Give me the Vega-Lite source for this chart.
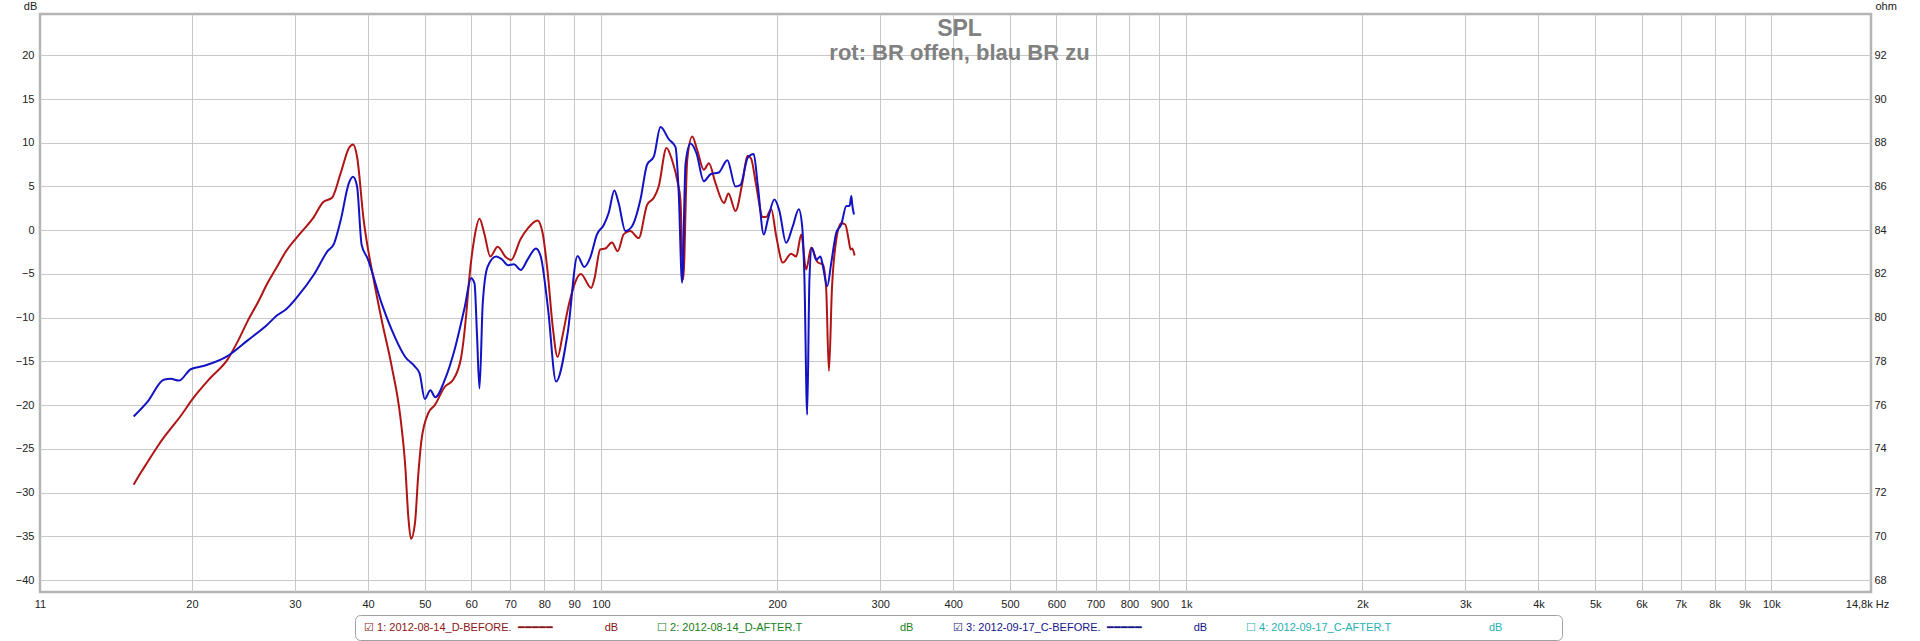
{
  "$schema": "https://vega.github.io/schema/vega-lite/v6.json",
  "width": 1831,
  "height": 578,
  "autosize": "none",
  "padding": {"left": 40, "top": 14, "right": 49, "bottom": 49},
  "background": "white",
  "config": {
    "font": "Liberation Sans",
    "view": {"stroke": "#b4b4b4", "strokeWidth": 2.5}
  },
  "title": {
    "text": "SPL",
    "subtitle": "rot: BR offen, blau BR zu",
    "anchor": "middle",
    "frame": "group",
    "offset": -64,
    "dx": 4,
    "font": "Liberation Sans",
    "fontSize": 23,
    "fontWeight": "bold",
    "color": "#808080",
    "subtitleFont": "Liberation Sans",
    "subtitleFontSize": 22,
    "subtitleFontWeight": "bold",
    "subtitleColor": "#808080",
    "subtitlePadding": 2
  },
  "data": {
    "values": [
      {"series": "1: 2012-08-14_D-BEFORE.", "hz": 15.9, "db": -29.1},
      {"series": "1: 2012-08-14_D-BEFORE.", "hz": 16.4, "db": -27.6},
      {"series": "1: 2012-08-14_D-BEFORE.", "hz": 16.8, "db": -26.5},
      {"series": "1: 2012-08-14_D-BEFORE.", "hz": 17.4, "db": -24.9},
      {"series": "1: 2012-08-14_D-BEFORE.", "hz": 18.0, "db": -23.5},
      {"series": "1: 2012-08-14_D-BEFORE.", "hz": 18.6, "db": -22.3},
      {"series": "1: 2012-08-14_D-BEFORE.", "hz": 19.2, "db": -21.1},
      {"series": "1: 2012-08-14_D-BEFORE.", "hz": 20.0, "db": -19.4},
      {"series": "1: 2012-08-14_D-BEFORE.", "hz": 21.5, "db": -16.9},
      {"series": "1: 2012-08-14_D-BEFORE.", "hz": 23.0, "db": -14.8},
      {"series": "1: 2012-08-14_D-BEFORE.", "hz": 24.0, "db": -12.6},
      {"series": "1: 2012-08-14_D-BEFORE.", "hz": 24.9, "db": -10.4},
      {"series": "1: 2012-08-14_D-BEFORE.", "hz": 26.0, "db": -8.1},
      {"series": "1: 2012-08-14_D-BEFORE.", "hz": 26.9, "db": -6.1},
      {"series": "1: 2012-08-14_D-BEFORE.", "hz": 28.0, "db": -4.1},
      {"series": "1: 2012-08-14_D-BEFORE.", "hz": 28.9, "db": -2.5},
      {"series": "1: 2012-08-14_D-BEFORE.", "hz": 30.6, "db": -0.4},
      {"series": "1: 2012-08-14_D-BEFORE.", "hz": 32.3, "db": 1.5},
      {"series": "1: 2012-08-14_D-BEFORE.", "hz": 33.5, "db": 3.2},
      {"series": "1: 2012-08-14_D-BEFORE.", "hz": 34.7, "db": 3.7},
      {"series": "1: 2012-08-14_D-BEFORE.", "hz": 35.9, "db": 6.5},
      {"series": "1: 2012-08-14_D-BEFORE.", "hz": 37.1, "db": 9.4},
      {"series": "1: 2012-08-14_D-BEFORE.", "hz": 37.7, "db": 9.8},
      {"series": "1: 2012-08-14_D-BEFORE.", "hz": 38.3, "db": 8.4},
      {"series": "1: 2012-08-14_D-BEFORE.", "hz": 39.3, "db": 1.2},
      {"series": "1: 2012-08-14_D-BEFORE.", "hz": 40.9, "db": -5.7},
      {"series": "1: 2012-08-14_D-BEFORE.", "hz": 42.2, "db": -10.3},
      {"series": "1: 2012-08-14_D-BEFORE.", "hz": 43.9, "db": -15.6},
      {"series": "1: 2012-08-14_D-BEFORE.", "hz": 45.4, "db": -21.3},
      {"series": "1: 2012-08-14_D-BEFORE.", "hz": 46.3, "db": -27.0},
      {"series": "1: 2012-08-14_D-BEFORE.", "hz": 46.85, "db": -32.7},
      {"series": "1: 2012-08-14_D-BEFORE.", "hz": 47.35, "db": -35.3},
      {"series": "1: 2012-08-14_D-BEFORE.", "hz": 48.1, "db": -33.5},
      {"series": "1: 2012-08-14_D-BEFORE.", "hz": 48.7, "db": -28.2},
      {"series": "1: 2012-08-14_D-BEFORE.", "hz": 49.35, "db": -24.0},
      {"series": "1: 2012-08-14_D-BEFORE.", "hz": 50.7, "db": -20.9},
      {"series": "1: 2012-08-14_D-BEFORE.", "hz": 52.0, "db": -20.0},
      {"series": "1: 2012-08-14_D-BEFORE.", "hz": 54.1, "db": -17.9},
      {"series": "1: 2012-08-14_D-BEFORE.", "hz": 55.9, "db": -17.1},
      {"series": "1: 2012-08-14_D-BEFORE.", "hz": 57.7, "db": -14.5},
      {"series": "1: 2012-08-14_D-BEFORE.", "hz": 58.8, "db": -9.9},
      {"series": "1: 2012-08-14_D-BEFORE.", "hz": 59.6, "db": -5.3},
      {"series": "1: 2012-08-14_D-BEFORE.", "hz": 60.8, "db": -0.8},
      {"series": "1: 2012-08-14_D-BEFORE.", "hz": 62.0, "db": 1.3},
      {"series": "1: 2012-08-14_D-BEFORE.", "hz": 63.2, "db": -0.4},
      {"series": "1: 2012-08-14_D-BEFORE.", "hz": 64.7, "db": -3.0},
      {"series": "1: 2012-08-14_D-BEFORE.", "hz": 66.6, "db": -1.9},
      {"series": "1: 2012-08-14_D-BEFORE.", "hz": 68.8, "db": -3.1},
      {"series": "1: 2012-08-14_D-BEFORE.", "hz": 70.2, "db": -3.4},
      {"series": "1: 2012-08-14_D-BEFORE.", "hz": 72.9, "db": -1.0},
      {"series": "1: 2012-08-14_D-BEFORE.", "hz": 75.0, "db": 0.2},
      {"series": "1: 2012-08-14_D-BEFORE.", "hz": 77.9, "db": 1.1},
      {"series": "1: 2012-08-14_D-BEFORE.", "hz": 79.5, "db": -0.35},
      {"series": "1: 2012-08-14_D-BEFORE.", "hz": 81.1, "db": -4.9},
      {"series": "1: 2012-08-14_D-BEFORE.", "hz": 82.7, "db": -11.0},
      {"series": "1: 2012-08-14_D-BEFORE.", "hz": 84.3, "db": -14.5},
      {"series": "1: 2012-08-14_D-BEFORE.", "hz": 86.0, "db": -12.0},
      {"series": "1: 2012-08-14_D-BEFORE.", "hz": 88.2, "db": -8.4},
      {"series": "1: 2012-08-14_D-BEFORE.", "hz": 92.4, "db": -5.0},
      {"series": "1: 2012-08-14_D-BEFORE.", "hz": 96.2, "db": -6.6},
      {"series": "1: 2012-08-14_D-BEFORE.", "hz": 97.5, "db": -5.5},
      {"series": "1: 2012-08-14_D-BEFORE.", "hz": 99.7, "db": -2.2},
      {"series": "1: 2012-08-14_D-BEFORE.", "hz": 101.7, "db": -2.1},
      {"series": "1: 2012-08-14_D-BEFORE.", "hz": 104.4, "db": -1.4},
      {"series": "1: 2012-08-14_D-BEFORE.", "hz": 106.8, "db": -2.4},
      {"series": "1: 2012-08-14_D-BEFORE.", "hz": 109.4, "db": -0.45},
      {"series": "1: 2012-08-14_D-BEFORE.", "hz": 112.2, "db": -0.1},
      {"series": "1: 2012-08-14_D-BEFORE.", "hz": 116.0, "db": -0.9},
      {"series": "1: 2012-08-14_D-BEFORE.", "hz": 119.9, "db": 2.9},
      {"series": "1: 2012-08-14_D-BEFORE.", "hz": 123.1, "db": 3.7},
      {"series": "1: 2012-08-14_D-BEFORE.", "hz": 125.5, "db": 5.0},
      {"series": "1: 2012-08-14_D-BEFORE.", "hz": 129.4, "db": 9.4},
      {"series": "1: 2012-08-14_D-BEFORE.", "hz": 132.3, "db": 8.0},
      {"series": "1: 2012-08-14_D-BEFORE.", "hz": 135.3, "db": 5.4},
      {"series": "1: 2012-08-14_D-BEFORE.", "hz": 136.7, "db": 3.5},
      {"series": "1: 2012-08-14_D-BEFORE.", "hz": 138.2, "db": -5.6},
      {"series": "1: 2012-08-14_D-BEFORE.", "hz": 140.4, "db": 8.0},
      {"series": "1: 2012-08-14_D-BEFORE.", "hz": 143.2, "db": 10.7},
      {"series": "1: 2012-08-14_D-BEFORE.", "hz": 146.0, "db": 9.2},
      {"series": "1: 2012-08-14_D-BEFORE.", "hz": 149.9, "db": 6.9},
      {"series": "1: 2012-08-14_D-BEFORE.", "hz": 152.9, "db": 7.65},
      {"series": "1: 2012-08-14_D-BEFORE.", "hz": 156.9, "db": 5.4},
      {"series": "1: 2012-08-14_D-BEFORE.", "hz": 162.3, "db": 3.1},
      {"series": "1: 2012-08-14_D-BEFORE.", "hz": 165.1, "db": 4.2},
      {"series": "1: 2012-08-14_D-BEFORE.", "hz": 169.8, "db": 2.2},
      {"series": "1: 2012-08-14_D-BEFORE.", "hz": 174.4, "db": 5.4},
      {"series": "1: 2012-08-14_D-BEFORE.", "hz": 178.0, "db": 8.5},
      {"series": "1: 2012-08-14_D-BEFORE.", "hz": 180.5, "db": 8.2},
      {"series": "1: 2012-08-14_D-BEFORE.", "hz": 184.1, "db": 5.2},
      {"series": "1: 2012-08-14_D-BEFORE.", "hz": 189.0, "db": 1.5},
      {"series": "1: 2012-08-14_D-BEFORE.", "hz": 191.5, "db": 1.5},
      {"series": "1: 2012-08-14_D-BEFORE.", "hz": 195.4, "db": 2.4},
      {"series": "1: 2012-08-14_D-BEFORE.", "hz": 199.3, "db": -0.7},
      {"series": "1: 2012-08-14_D-BEFORE.", "hz": 204.5, "db": -3.7},
      {"series": "1: 2012-08-14_D-BEFORE.", "hz": 211.3, "db": -2.7},
      {"series": "1: 2012-08-14_D-BEFORE.", "hz": 215.6, "db": -3.0},
      {"series": "1: 2012-08-14_D-BEFORE.", "hz": 219.9, "db": -0.5},
      {"series": "1: 2012-08-14_D-BEFORE.", "hz": 224.2, "db": -4.5},
      {"series": "1: 2012-08-14_D-BEFORE.", "hz": 228.7, "db": -2.0},
      {"series": "1: 2012-08-14_D-BEFORE.", "hz": 234.8, "db": -3.7},
      {"series": "1: 2012-08-14_D-BEFORE.", "hz": 239.4, "db": -3.9},
      {"series": "1: 2012-08-14_D-BEFORE.", "hz": 242.6, "db": -6.8},
      {"series": "1: 2012-08-14_D-BEFORE.", "hz": 245.2, "db": -16.1},
      {"series": "1: 2012-08-14_D-BEFORE.", "hz": 248.1, "db": -6.8},
      {"series": "1: 2012-08-14_D-BEFORE.", "hz": 252.4, "db": -1.1},
      {"series": "1: 2012-08-14_D-BEFORE.", "hz": 257.4, "db": 0.8},
      {"series": "1: 2012-08-14_D-BEFORE.", "hz": 261.5, "db": 0.65},
      {"series": "1: 2012-08-14_D-BEFORE.", "hz": 265.0, "db": -1.1},
      {"series": "1: 2012-08-14_D-BEFORE.", "hz": 267.0, "db": -2.2},
      {"series": "1: 2012-08-14_D-BEFORE.", "hz": 268.8, "db": -2.1},
      {"series": "1: 2012-08-14_D-BEFORE.", "hz": 271.3, "db": -2.9},
      {"series": "3: 2012-09-17_C-BEFORE.", "hz": 15.9, "db": -21.3},
      {"series": "3: 2012-09-17_C-BEFORE.", "hz": 16.8, "db": -19.6},
      {"series": "3: 2012-09-17_C-BEFORE.", "hz": 17.9, "db": -17.1},
      {"series": "3: 2012-09-17_C-BEFORE.", "hz": 18.4, "db": -17.0},
      {"series": "3: 2012-09-17_C-BEFORE.", "hz": 19.0, "db": -17.2},
      {"series": "3: 2012-09-17_C-BEFORE.", "hz": 19.9, "db": -15.9},
      {"series": "3: 2012-09-17_C-BEFORE.", "hz": 21.0, "db": -15.5},
      {"series": "3: 2012-09-17_C-BEFORE.", "hz": 23.0, "db": -14.4},
      {"series": "3: 2012-09-17_C-BEFORE.", "hz": 24.9, "db": -12.6},
      {"series": "3: 2012-09-17_C-BEFORE.", "hz": 26.9, "db": -10.8},
      {"series": "3: 2012-09-17_C-BEFORE.", "hz": 28.0, "db": -9.7},
      {"series": "3: 2012-09-17_C-BEFORE.", "hz": 28.9, "db": -9.1},
      {"series": "3: 2012-09-17_C-BEFORE.", "hz": 30.3, "db": -7.6},
      {"series": "3: 2012-09-17_C-BEFORE.", "hz": 32.3, "db": -5.1},
      {"series": "3: 2012-09-17_C-BEFORE.", "hz": 34.1, "db": -2.4},
      {"series": "3: 2012-09-17_C-BEFORE.", "hz": 35.0, "db": -1.5},
      {"series": "3: 2012-09-17_C-BEFORE.", "hz": 35.9, "db": 1.1},
      {"series": "3: 2012-09-17_C-BEFORE.", "hz": 37.1, "db": 5.4},
      {"series": "3: 2012-09-17_C-BEFORE.", "hz": 37.7, "db": 6.1},
      {"series": "3: 2012-09-17_C-BEFORE.", "hz": 38.3, "db": 5.0},
      {"series": "3: 2012-09-17_C-BEFORE.", "hz": 39.0, "db": -1.7},
      {"series": "3: 2012-09-17_C-BEFORE.", "hz": 39.9, "db": -3.2},
      {"series": "3: 2012-09-17_C-BEFORE.", "hz": 42.2, "db": -8.4},
      {"series": "3: 2012-09-17_C-BEFORE.", "hz": 43.9, "db": -11.4},
      {"series": "3: 2012-09-17_C-BEFORE.", "hz": 46.3, "db": -14.5},
      {"series": "3: 2012-09-17_C-BEFORE.", "hz": 48.1, "db": -15.6},
      {"series": "3: 2012-09-17_C-BEFORE.", "hz": 49.0, "db": -16.4},
      {"series": "3: 2012-09-17_C-BEFORE.", "hz": 50.0, "db": -19.3},
      {"series": "3: 2012-09-17_C-BEFORE.", "hz": 51.1, "db": -18.3},
      {"series": "3: 2012-09-17_C-BEFORE.", "hz": 52.1, "db": -19.1},
      {"series": "3: 2012-09-17_C-BEFORE.", "hz": 54.1, "db": -17.1},
      {"series": "3: 2012-09-17_C-BEFORE.", "hz": 56.2, "db": -13.7},
      {"series": "3: 2012-09-17_C-BEFORE.", "hz": 58.5, "db": -8.8},
      {"series": "3: 2012-09-17_C-BEFORE.", "hz": 60.0, "db": -5.5},
      {"series": "3: 2012-09-17_C-BEFORE.", "hz": 60.8, "db": -6.1},
      {"series": "3: 2012-09-17_C-BEFORE.", "hz": 61.4, "db": -12.0},
      {"series": "3: 2012-09-17_C-BEFORE.", "hz": 62.0, "db": -18.1},
      {"series": "3: 2012-09-17_C-BEFORE.", "hz": 62.8, "db": -8.4},
      {"series": "3: 2012-09-17_C-BEFORE.", "hz": 64.0, "db": -4.2},
      {"series": "3: 2012-09-17_C-BEFORE.", "hz": 66.2, "db": -3.0},
      {"series": "3: 2012-09-17_C-BEFORE.", "hz": 67.9, "db": -3.4},
      {"series": "3: 2012-09-17_C-BEFORE.", "hz": 69.3, "db": -4.0},
      {"series": "3: 2012-09-17_C-BEFORE.", "hz": 71.0, "db": -3.9},
      {"series": "3: 2012-09-17_C-BEFORE.", "hz": 72.9, "db": -4.55},
      {"series": "3: 2012-09-17_C-BEFORE.", "hz": 75.0, "db": -3.3},
      {"series": "3: 2012-09-17_C-BEFORE.", "hz": 77.4, "db": -2.1},
      {"series": "3: 2012-09-17_C-BEFORE.", "hz": 78.9, "db": -3.0},
      {"series": "3: 2012-09-17_C-BEFORE.", "hz": 81.2, "db": -9.0},
      {"series": "3: 2012-09-17_C-BEFORE.", "hz": 83.8, "db": -17.3},
      {"series": "3: 2012-09-17_C-BEFORE.", "hz": 87.7, "db": -11.8},
      {"series": "3: 2012-09-17_C-BEFORE.", "hz": 91.2, "db": -2.95},
      {"series": "3: 2012-09-17_C-BEFORE.", "hz": 93.6, "db": -4.2},
      {"series": "3: 2012-09-17_C-BEFORE.", "hz": 95.9, "db": -3.1},
      {"series": "3: 2012-09-17_C-BEFORE.", "hz": 98.4, "db": -0.5},
      {"series": "3: 2012-09-17_C-BEFORE.", "hz": 101.1, "db": 0.6},
      {"series": "3: 2012-09-17_C-BEFORE.", "hz": 103.1, "db": 2.0},
      {"series": "3: 2012-09-17_C-BEFORE.", "hz": 105.4, "db": 4.55},
      {"series": "3: 2012-09-17_C-BEFORE.", "hz": 107.2, "db": 3.1},
      {"series": "3: 2012-09-17_C-BEFORE.", "hz": 110.1, "db": -0.1},
      {"series": "3: 2012-09-17_C-BEFORE.", "hz": 113.0, "db": 0.45},
      {"series": "3: 2012-09-17_C-BEFORE.", "hz": 116.8, "db": 3.5},
      {"series": "3: 2012-09-17_C-BEFORE.", "hz": 119.9, "db": 7.5},
      {"series": "3: 2012-09-17_C-BEFORE.", "hz": 123.1, "db": 8.4},
      {"series": "3: 2012-09-17_C-BEFORE.", "hz": 126.4, "db": 11.8},
      {"series": "3: 2012-09-17_C-BEFORE.", "hz": 130.6, "db": 10.4},
      {"series": "3: 2012-09-17_C-BEFORE.", "hz": 134.1, "db": 9.5},
      {"series": "3: 2012-09-17_C-BEFORE.", "hz": 135.8, "db": 4.2},
      {"series": "3: 2012-09-17_C-BEFORE.", "hz": 137.6, "db": -6.0},
      {"series": "3: 2012-09-17_C-BEFORE.", "hz": 139.5, "db": 7.65},
      {"series": "3: 2012-09-17_C-BEFORE.", "hz": 142.2, "db": 9.9},
      {"series": "3: 2012-09-17_C-BEFORE.", "hz": 145.6, "db": 8.8},
      {"series": "3: 2012-09-17_C-BEFORE.", "hz": 149.9, "db": 5.6},
      {"series": "3: 2012-09-17_C-BEFORE.", "hz": 153.9, "db": 6.4},
      {"series": "3: 2012-09-17_C-BEFORE.", "hz": 159.0, "db": 6.6},
      {"series": "3: 2012-09-17_C-BEFORE.", "hz": 164.4, "db": 8.0},
      {"series": "3: 2012-09-17_C-BEFORE.", "hz": 169.8, "db": 5.0},
      {"series": "3: 2012-09-17_C-BEFORE.", "hz": 173.2, "db": 5.2},
      {"series": "3: 2012-09-17_C-BEFORE.", "hz": 178.2, "db": 8.3},
      {"series": "3: 2012-09-17_C-BEFORE.", "hz": 182.4, "db": 8.7},
      {"series": "3: 2012-09-17_C-BEFORE.", "hz": 185.3, "db": 5.2},
      {"series": "3: 2012-09-17_C-BEFORE.", "hz": 189.8, "db": -0.5},
      {"series": "3: 2012-09-17_C-BEFORE.", "hz": 192.8, "db": 1.2},
      {"series": "3: 2012-09-17_C-BEFORE.", "hz": 197.9, "db": 3.5},
      {"series": "3: 2012-09-17_C-BEFORE.", "hz": 201.8, "db": 2.2},
      {"series": "3: 2012-09-17_C-BEFORE.", "hz": 207.2, "db": -1.45},
      {"series": "3: 2012-09-17_C-BEFORE.", "hz": 212.7, "db": 0.45},
      {"series": "3: 2012-09-17_C-BEFORE.", "hz": 217.8, "db": 2.4},
      {"series": "3: 2012-09-17_C-BEFORE.", "hz": 220.7, "db": 0.45},
      {"series": "3: 2012-09-17_C-BEFORE.", "hz": 222.7, "db": -5.6},
      {"series": "3: 2012-09-17_C-BEFORE.", "hz": 225.1, "db": -21.1},
      {"series": "3: 2012-09-17_C-BEFORE.", "hz": 227.1, "db": -5.6},
      {"series": "3: 2012-09-17_C-BEFORE.", "hz": 229.3, "db": -2.0},
      {"series": "3: 2012-09-17_C-BEFORE.", "hz": 233.2, "db": -3.4},
      {"series": "3: 2012-09-17_C-BEFORE.", "hz": 237.2, "db": -3.0},
      {"series": "3: 2012-09-17_C-BEFORE.", "hz": 239.4, "db": -4.1},
      {"series": "3: 2012-09-17_C-BEFORE.", "hz": 243.6, "db": -6.4},
      {"series": "3: 2012-09-17_C-BEFORE.", "hz": 247.5, "db": -3.7},
      {"series": "3: 2012-09-17_C-BEFORE.", "hz": 252.4, "db": -0.3},
      {"series": "3: 2012-09-17_C-BEFORE.", "hz": 257.4, "db": 0.65},
      {"series": "3: 2012-09-17_C-BEFORE.", "hz": 262.5, "db": 2.75},
      {"series": "3: 2012-09-17_C-BEFORE.", "hz": 266.0, "db": 2.8},
      {"series": "3: 2012-09-17_C-BEFORE.", "hz": 267.8, "db": 3.9},
      {"series": "3: 2012-09-17_C-BEFORE.", "hz": 268.8, "db": 2.9},
      {"series": "3: 2012-09-17_C-BEFORE.", "hz": 270.6, "db": 1.8}
    ]
  },
  "layer": [
    {
      "mark": {"type": "line", "strokeWidth": 2, "interpolate": "monotone"},
      "encoding": {
        "x": {
          "field": "hz",
          "type": "quantitative",
          "scale": {"type": "log", "domain": [11, 14800], "nice": false},
          "axis": {
            "values": [11, 20, 30, 40, 50, 60, 70, 80, 90, 100, 200, 300, 400, 500, 600, 700, 800, 900, 1000, 2000, 3000, 4000, 5000, 6000, 7000, 8000, 9000, 10000, 14800],
            "labelExpr": "datum.value > 14000 ? '14,8k Hz' : (datum.value >= 1000 ? (datum.value / 1000) + 'k' : '' + datum.value)",
            "grid": true,
            "gridColor": "#c8c8c8",
            "gridOpacity": {"condition": {"test": "datum.value < 12 || datum.value > 14000", "value": 0}, "value": 1},
            "ticks": false,
            "domain": false,
            "labelFlush": false,
            "labelOverlap": false,
            "labelPadding": 6,
            "labelFont": "Liberation Sans",
            "labelFontSize": 11,
            "labelColor": "#222222",
            "labelOffset": {"condition": {"test": "datum.value > 14000", "value": -4}, "value": 0},
            "title": null
          }
        },
        "y": {
          "field": "db",
          "type": "quantitative",
          "scale": {"domain": [-41.37, 24.72], "nice": false, "zero": false},
          "axis": {
            "values": [-40, -35, -30, -25, -20, -15, -10, -5, 0, 5, 10, 15, 20],
            "grid": true,
            "gridColor": "#c8c8c8",
            "ticks": false,
            "domain": false,
            "labelPadding": 6,
            "labelFont": "Liberation Sans",
            "labelFontSize": 11,
            "labelColor": "#222222",
            "title": "dB",
            "titleAngle": 0,
            "titleX": -10,
            "titleY": -5,
            "titleAlign": "center",
            "titleBaseline": "alphabetic",
            "titleFont": "Liberation Sans",
            "titleFontSize": 11,
            "titleFontWeight": "normal",
            "titleColor": "#222222"
          }
        },
        "color": {
          "field": "series",
          "type": "nominal",
          "scale": {
            "domain": ["1: 2012-08-14_D-BEFORE.", "2: 2012-08-14_D-AFTER.T", "3: 2012-09-17_C-BEFORE.", "4: 2012-09-17_C-AFTER.T"],
            "range": ["#b01414", "#108010", "#1212c4", "#20b0b0"]
          },
          "legend": {
            "orient": "none",
            "legendX": 315,
            "legendY": 601,
            "direction": "horizontal",
            "columns": 4,
            "gridAlign": "each",
            "columnPadding": 0,
            "title": null,
            "strokeColor": "#a0a0a0",
            "fillColor": "white",
            "cornerRadius": 5,
            "padding": 7,
            "symbolOpacity": 0,
            "symbolSize": 0,
            "labelOffset": -9,
            "labelFont": "Liberation Sans",
            "labelFontSize": 11,
            "labelLimit": 700,
            "labelExpr": "(substring(datum.value, 0, 1) == '1' || substring(datum.value, 0, 1) == '3') ? '\u2611\u00a0' + datum.label + '\u00a0\u00a0\u2501\u2501\u2501\u2501\u2501\u00a0\u00a0\u00a0\u00a0\u00a0\u00a0\u00a0\u00a0\u00a0\u00a0\u00a0\u00a0\u00a0\u00a0\u00a0\u00a0\u00a0dB\u00a0\u00a0\u00a0\u00a0\u00a0\u00a0\u00a0\u00a0\u00a0\u00a0\u00a0\u00a0\u200b' : '\u2610\u00a0' + datum.label + '\u00a0\u00a0\u00a0\u00a0\u00a0\u00a0\u00a0\u00a0\u00a0\u00a0\u00a0\u00a0\u00a0\u00a0\u00a0\u00a0\u00a0\u00a0\u00a0\u00a0\u00a0\u00a0\u00a0\u00a0\u00a0\u00a0\u00a0\u00a0\u00a0\u00a0\u00a0\u00a0dB' + (substring(datum.value, 0, 1) == '4' ? '\u00a0\u00a0\u00a0\u00a0\u00a0\u00a0\u00a0\u00a0\u00a0\u00a0\u00a0\u00a0\u00a0\u00a0\u00a0\u00a0\u00a0\u200b' : '\u00a0\u00a0\u00a0\u00a0\u00a0\u00a0\u00a0\u00a0\u00a0\u00a0\u00a0\u00a0\u200b')",
            "labelColor": {"expr": "substring(datum.value, 0, 1) == '1' ? '#8b1414' : (substring(datum.value, 0, 1) == '2' ? '#1a801a' : (substring(datum.value, 0, 1) == '3' ? '#14148b' : '#1fb0b0'))"}
          }
        }
      }
    },
    {
      "mark": {"type": "point", "opacity": 0},
      "encoding": {
        "x": {"field": "hz", "type": "quantitative", "scale": {"type": "log", "domain": [11, 14800], "nice": false}},
        "y": {
          "field": "db",
          "type": "quantitative",
          "scale": {"domain": [-41.37, 24.72], "nice": false, "zero": false},
          "axis": {
            "orient": "right",
            "values": [-40, -35, -30, -25, -20, -15, -10, -5, 0, 5, 10, 15, 20],
            "labelExpr": "format(84 + datum.value * 0.4, '.0f')",
            "grid": false,
            "ticks": false,
            "domain": false,
            "labelPadding": 3,
            "labelFont": "Liberation Sans",
            "labelFontSize": 11,
            "labelColor": "#222222",
            "title": "ohm",
            "titleAngle": 0,
            "titleX": 4,
            "titleY": -5,
            "titleAlign": "left",
            "titleBaseline": "alphabetic",
            "titleFont": "Liberation Sans",
            "titleFontSize": 11,
            "titleFontWeight": "normal",
            "titleColor": "#222222"
          }
        }
      }
    }
  ],
  "resolve": {"scale": {"y": "independent"}}
}
